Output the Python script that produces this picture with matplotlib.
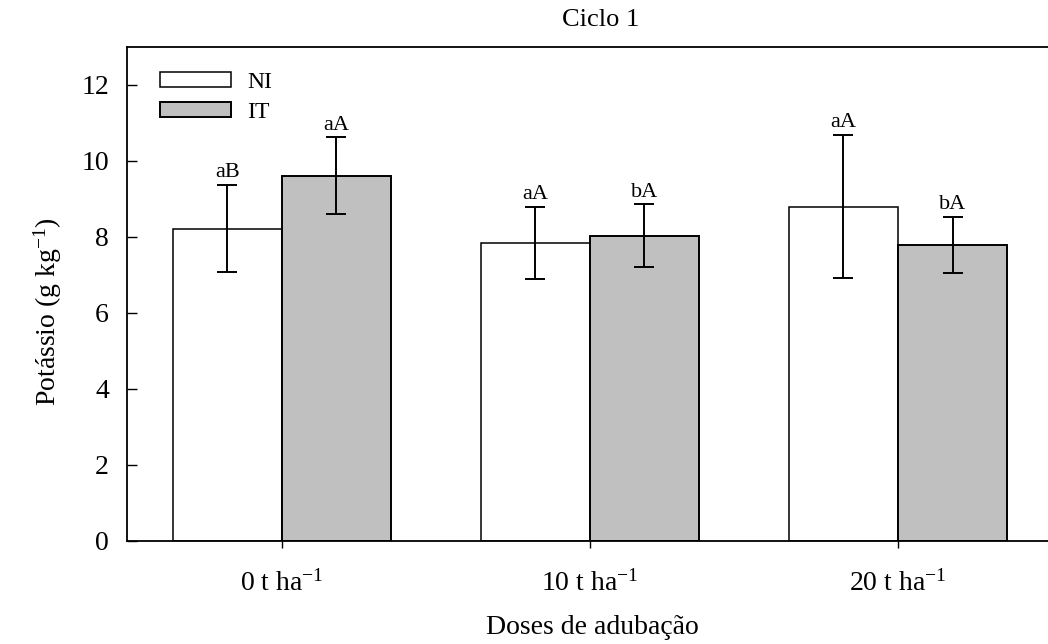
import matplotlib
matplotlib.use('Agg')
import matplotlib.pyplot as plt
import numpy as np

plt.rcParams['font.family'] = ['Liberation Serif', 'DejaVu Serif']
plt.rcParams['mathtext.fontset'] = 'custom'
plt.rcParams['mathtext.rm'] = 'Liberation Serif'
plt.rcParams['mathtext.it'] = 'Liberation Serif:italic'

doses = ['0 t ha$^{-1}$', '10 t ha$^{-1}$', '20 t ha$^{-1}$']
ni_vals = [8.22, 7.84, 8.80]
ni_err = [1.15, 0.95, 1.89]
it_vals = [9.61, 8.03, 7.79]
it_err = [1.01, 0.83, 0.73]
ni_letters = ['aB', 'aA', 'aA']
it_letters = ['aA', 'bA', 'bA']

fs = 20
w = 0.354
x = np.arange(len(doses))

fig = plt.figure(figsize=(10.48, 6.44), dpi=100)
ax = fig.add_axes([127 / 1048, 1 - 541 / 644, 921 / 1048, 494 / 644])

ax.bar(x - w / 2, ni_vals, w, color='white', edgecolor='black', linewidth=1.1, label='NI')
ax.bar(x + w / 2, it_vals, w, color='#c0c0c0', edgecolor='black', linewidth=1.4, label='IT')
ax.errorbar(x - w / 2, ni_vals, yerr=ni_err, fmt='none', ecolor='black', elinewidth=1.4, capsize=7, capthick=1.4)
ax.errorbar(x + w / 2, it_vals, yerr=it_err, fmt='none', ecolor='black', elinewidth=1.4, capsize=7, capthick=1.4)

for i in range(len(doses)):
    ax.annotate(ni_letters[i], (x[i] - w / 2, ni_vals[i] + ni_err[i]), xytext=(0, 2),
                textcoords='offset points', ha='center', va='bottom', fontsize=16)
    ax.annotate(it_letters[i], (x[i] + w / 2, it_vals[i] + it_err[i]), xytext=(0, 2),
                textcoords='offset points', ha='center', va='bottom', fontsize=16)

ax.set_xlim(-0.503, 2.487)
ax.set_ylim(0, 13)
ax.set_yticks([0, 2, 4, 6, 8, 10, 12])
ax.set_xticks(x)
ax.set_xticklabels(doses)
ax.tick_params(axis='y', direction='in', length=7, width=1, pad=13, labelsize=fs)
ax.tick_params(axis='x', direction='out', length=5, width=1, pad=16, labelsize=fs)
ax.spines['right'].set_visible(False)
for s in ['left', 'top', 'bottom']:
    ax.spines[s].set_linewidth(1.3)

ax.legend(loc='upper left', bbox_to_anchor=(0.026, 0.969), frameon=False, fontsize=17,
          handlelength=3.0, handleheight=0.6, labelspacing=0.38, handletextpad=0.68,
          borderaxespad=0)

ax.set_ylabel('Potássio (g kg$^{-1}$)', fontsize=20)
ax.yaxis.set_label_coords(-0.068, 0.464)
fig.text(592 / 1048, 1 - 628 / 644, 'Doses de adubação', ha='center', va='center', fontsize=20)
fig.text(601 / 1048, 1 - 20 / 644, 'Ciclo 1', ha='center', va='center', fontsize=19)

plt.savefig('out.png', dpi=100)
